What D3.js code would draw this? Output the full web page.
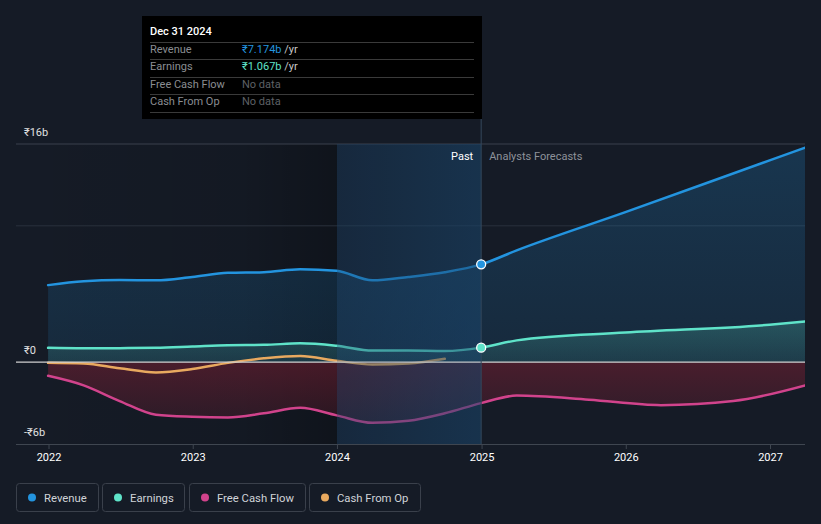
<!DOCTYPE html>
<html><head><meta charset="utf-8">
<script src="https://cdn.jsdelivr.net/npm/d3@7"></script>
<style>
html,body{margin:0;padding:0;background:#151b26;}
svg{display:block;font-family:Roboto,"Noto Sans",sans-serif;}
</style></head><body>
<svg id="c" width="821" height="524"></svg>
<script>
// ---- data (₹ billions) ----
const pastDates = ["2021-12-31","2022-03-31","2022-06-30","2022-09-30","2022-12-31","2023-03-31","2023-06-30","2023-09-30","2023-12-31","2024-03-31","2024-06-30","2024-09-30","2024-12-31"];
const revenuePast  = [5.65,5.94,6.02,6.0,6.25,6.55,6.6,6.82,6.7,6.0,6.25,6.6,7.174];
const earningsPast = [1.05,1.02,1.03,1.05,1.15,1.25,1.27,1.38,1.2,0.85,0.85,0.82,1.067];
const fcfPast      = [-1.0,-1.7,-2.85,-3.85,-4.0,-4.05,-3.75,-3.35,-3.9,-4.45,-4.3,-3.75,-3.0];
const cfoDates = pastDates.slice(0,12);
const cfoPast      = [-0.05,-0.1,-0.45,-0.75,-0.5,-0.05,0.28,0.45,0.1,-0.17,-0.1,0.25];

const fcDates = ["2024-12-31","2025-03-31","2025-12-31","2026-12-31","2027-03-31"];
const revenueFc  = [7.174,8.2,11.0,14.8,15.73];
const earningsFc = [1.067,1.6,2.17,2.75,2.99];
const fcfFcDates = ["2024-12-31","2025-03-31","2025-09-30","2026-03-31","2026-09-30","2027-03-31"];
const fcfFc      = [-3.0,-2.45,-2.75,-3.15,-2.85,-1.7];

const yTicks = [16,0,-6];
const yTickLabels = ["₹16b","₹0","-₹6b"];
const xYears = [2022,2023,2024,2025,2026,2027];
const legendNames = ["Revenue","Earnings","Free Cash Flow","Cash From Op"];
const colors = ["#2394df","#5fe3c9","#d1438c","#e8a95f"];

(function(){
const P = d3.timeParse("%Y-%m-%d");
const svg = d3.select("#c");
const x = d3.scaleTime().domain([new Date(2022,0,1), new Date(2027,0,1)]).range([48.5, 770]);
const y = d3.scaleLinear().domain([-6,16]).range([444,144]);
const L = 16, R = 805, T = 144, B = 444;
const xNow = x(P("2024-12-31"));
const x2024 = x(new Date(2024,0,1));

const defs = svg.append("defs");
function lg(id, x1,y1,x2,y2, stops){
  const g = defs.append("linearGradient").attr("id",id).attr("x1",x1).attr("y1",y1).attr("x2",x2).attr("y2",y2);
  stops.forEach(s=>g.append("stop").attr("offset",s[0]).attr("stop-color",s[1]).attr("stop-opacity",s[2]));
}
lg("darkL","0","0","1","0",[[0,"#000",0],[0.7,"#000",0.08],[1,"#000",0.28]]);
lg("pastHi","0","0","1","0",[[0,"#1a4a74",0.28],[1,"#1a4a74",0.5]]);
lg("revG","0","0","0","1",[[0,"#2394df",0.22],[1,"#2394df",0.12]]);
lg("earnG","0","0","0","1",[[0,"#5fe3c9",0.22],[1,"#5fe3c9",0.1]]);
lg("fcfG","0","0","0","1",[[0,"#8a2035",0.45],[1,"#8a2035",0.2]]);

svg.append("clipPath").attr("id","plot").append("rect").attr("x",L).attr("y",T-5).attr("width",R-L).attr("height",B-T+5);

svg.append("rect").attr("x",L).attr("y",T).attr("width",x2024-L).attr("height",B-T).attr("fill","url(#darkL)");

[16,10].forEach(v=>svg.append("line").attr("x1",L).attr("x2",R).attr("y1",y(v)).attr("y2",y(v)).attr("stroke",v===16?"#3a414c":"#2a313c").attr("stroke-width",1));

const g = svg.append("g").attr("clip-path","url(#plot)");
const curve = d3.curveMonotoneX;
function mk(dates, vals){ return dates.map((d,i)=>({d:P(d),v:vals[i]})); }
const series = [
  {past:mk(pastDates,revenuePast), fc:mk(fcDates,revenueFc), c:colors[0], fill:"url(#revG)"},
  {past:mk(pastDates,earningsPast), fc:mk(fcDates,earningsFc), c:colors[1], fill:"url(#earnG)"},
  {past:mk(pastDates,fcfPast), fc:mk(fcfFcDates,fcfFc), c:colors[2], fill:"url(#fcfG)"},
  {past:mk(cfoDates,cfoPast), fc:null, c:colors[3], fill:null}
];
const area = d3.area().x(d=>x(d.d)).y0(y(0)).y1(d=>y(d.v)).curve(curve);
const line = d3.line().x(d=>x(d.d)).y(d=>y(d.v)).curve(curve);
series.forEach(s=>{
  if(!s.fill) return;
  const all = s.past.concat(s.fc.slice(1));
  g.append("path").attr("d",area(all)).attr("fill",s.fill);
});
svg.append("rect").attr("x",x2024).attr("y",T).attr("width",xNow-x2024).attr("height",B-T).attr("fill","url(#pastHi)");

svg.append("line").attr("x1",L).attr("x2",R).attr("y1",y(0)).attr("y2",y(0)).attr("stroke","#d0d0d0").attr("stroke-width",1.2);

[3,2,1,0].forEach(i=>{
  const s = series[i];
  const all = s.fc ? s.past.concat(s.fc.slice(1)) : s.past;
  g.append("path").attr("d",line(all)).attr("fill","none").attr("stroke",s.c).attr("stroke-width",2.5).attr("stroke-linecap","round");
});
svg.append("rect").attr("x",x2024).attr("y",T).attr("width",xNow-x2024).attr("height",B-T).attr("fill","#1a3550").attr("opacity",0.08);

svg.append("line").attr("x1",xNow).attr("x2",xNow).attr("y1",119).attr("y2",B).attr("stroke","#34485c").attr("stroke-width",1);

[[revenuePast[12],colors[0]],[earningsPast[12],colors[1]]].forEach(m=>{
  svg.append("circle").attr("cx",xNow).attr("cy",y(m[0])).attr("r",4.5).attr("fill",m[1]).attr("stroke","#fff").attr("stroke-width",1.3);
});

svg.append("text").attr("x",xNow-8).attr("y",160).attr("text-anchor","end").attr("fill","#fff").attr("font-size",11).text("Past");
svg.append("text").attr("x",xNow+8).attr("y",160).attr("fill","#8d929a").attr("font-size",11).text("Analysts Forecasts");

yTicks.forEach((v,i)=>svg.append("text").attr("x",24).attr("y",y(v)-8).attr("fill","#e0e0e0").attr("font-size",11).text(yTickLabels[i]));

const xa = svg.append("g").attr("transform",`translate(0,${B})`)
  .call(d3.axisBottom(x).tickValues(xYears.map(yv=>new Date(yv,0,1))).tickFormat(d3.timeFormat("%Y")).tickSize(5).tickSizeOuter(0));
xa.select(".domain").attr("d",`M${L},0.5H${R}`).attr("stroke","#3f4650");
xa.selectAll(".tick line").attr("stroke","#3f4650");
xa.selectAll(".tick text").attr("fill","#fff").attr("font-size",11).attr("font-family","Roboto").attr("y",7).attr("dy","0.95em");

const lgx = [16,102,189,309], lgw = [82,82,116,111];
legendNames.forEach((n,i)=>{
  const gg = svg.append("g").attr("transform",`translate(${lgx[i]},483)`);
  gg.append("rect").attr("x",0.5).attr("y",0.5).attr("width",lgw[i]).attr("height",28).attr("rx",3).attr("fill","none").attr("stroke","#3a404b");
  gg.append("circle").attr("cx",16).attr("cy",14.5).attr("r",4).attr("fill",colors[i]);
  gg.append("text").attr("x",28).attr("y",18.5).attr("fill","#d0d3d8").attr("font-size",11.3).text(n);
});

const tt = svg.append("g");
tt.append("rect").attr("x",142).attr("y",16).attr("width",340).attr("height",103).attr("fill","#000");
tt.append("text").attr("x",150).attr("y",35).attr("fill","#fff").attr("font-size",11).attr("font-weight",500).text("Dec 31 2024");
[42,59,77,94,112].forEach(yy=>tt.append("line").attr("x1",150).attr("x2",474).attr("y1",yy+0.5).attr("y2",yy+0.5).attr("stroke","#3a3a3a"));
const ttVals = [["₹7.174b",colors[0]],["₹1.067b",colors[1]],["No data",null],["No data",null]];
const rowY = [53,70,88,105];
legendNames.forEach((n,i)=>{
  tt.append("text").attr("x",150).attr("y",rowY[i]).attr("fill","#8a8d92").attr("font-size",11).text(n);
  const t = tt.append("text").attr("x",242).attr("y",rowY[i]).attr("font-size",11);
  if(ttVals[i][1]){
    t.append("tspan").attr("fill",ttVals[i][1]).text(ttVals[i][0]);
    t.append("tspan").attr("fill","#c8c8c8").text(" /yr");
  } else {
    t.attr("fill","#5e6166").text(ttVals[i][0]);
  }
});
})();
</script>
</body></html>
